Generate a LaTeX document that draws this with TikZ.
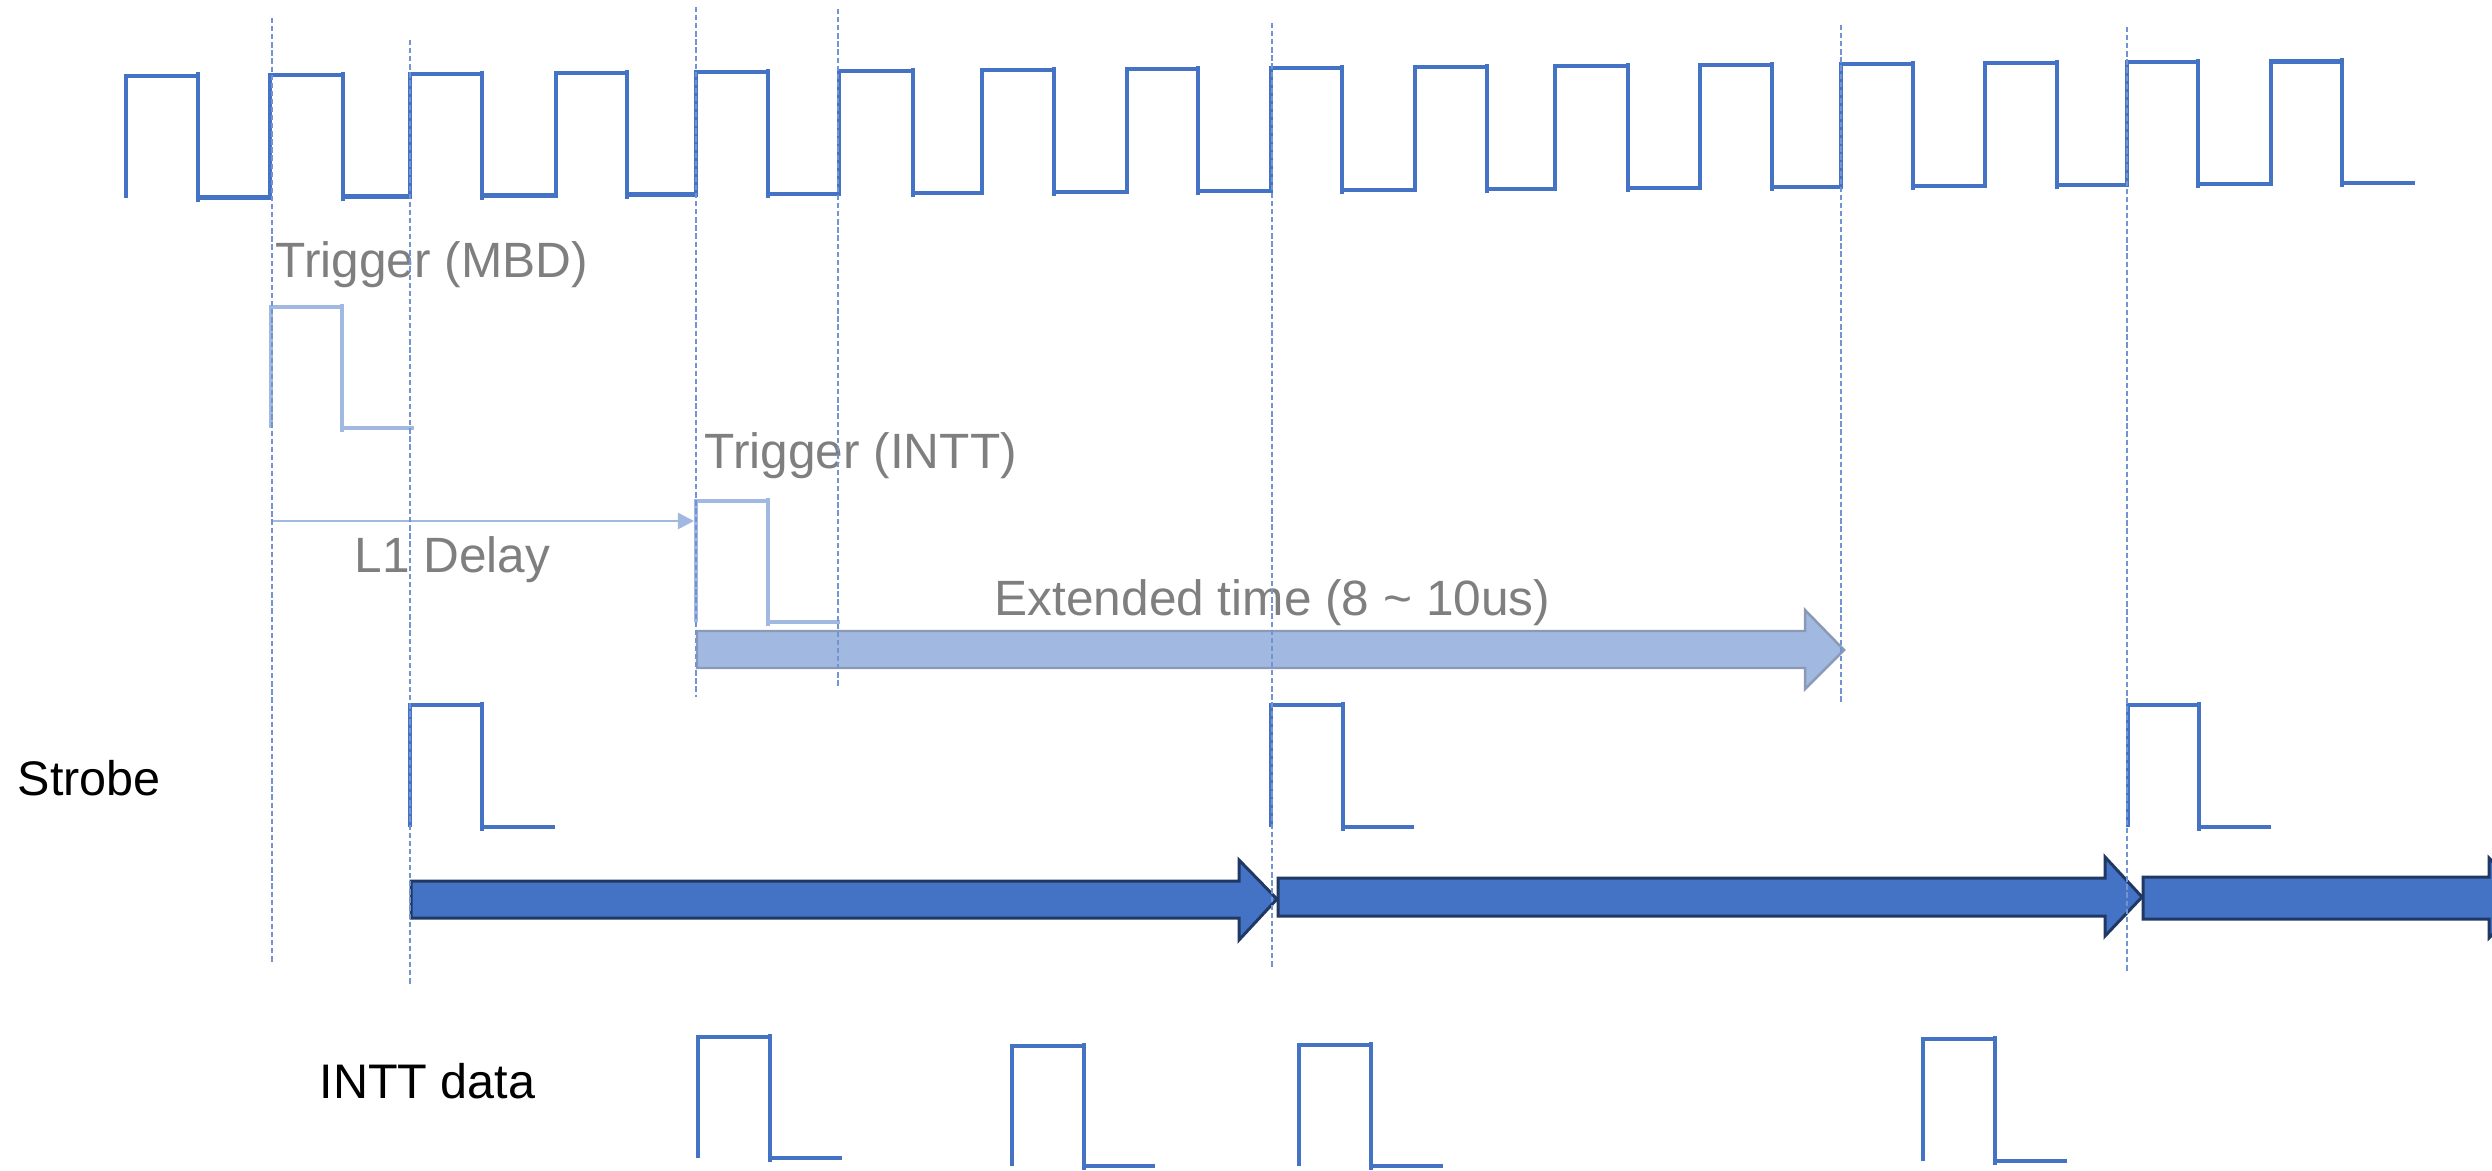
\documentclass[tikz,border=0pt]{standalone}
\usepackage{fontspec}
\setmainfont{Liberation Sans}
\usetikzlibrary{arrows.meta}

\definecolor{clockblue}{HTML}{4472C4}
\definecolor{paleblue}{HTML}{A1B8E1}
\definecolor{guideblue}{HTML}{7394D2}
\definecolor{navyedge}{HTML}{203864}
\definecolor{steeledge}{HTML}{8A9AB5}
\definecolor{textgray}{HTML}{7F7F7F}

% one pulse: style, rise x, fall x, end x, top y, bottom y
\newcommand\pulsewave[6]{%
  \draw[#1] (#2,#6) -- (#2,#5) -- (#3,#5) -- (#3,#6) -- (#4,#6);
  \draw[#1] (#3,#5-3) -- (#3,#6+4);
}

\begin{document}
\begin{tikzpicture}[x=0.01cm,y=-0.01cm,
    clockline/.style={draw=clockblue, line width=1.2pt},
    sigline/.style={draw=clockblue, line width=1pt},
    trigline/.style={draw=paleblue, line width=1pt},
    guide/.style={draw=guideblue, line width=0.45pt, dash pattern=on 1.5pt off 0.8pt},
    graylabel/.style={font=\fontsize{14.1}{16}\selectfont, inner sep=0pt, text=textgray, anchor=base west},
    rowlabel/.style={font=\fontsize{13.8}{16}\selectfont, inner sep=0pt, text=black, anchor=base west},
    darkarrow/.style={fill=clockblue, draw=navyedge, line width=0.85pt, line join=miter},
    palearrow/.style={fill=paleblue, draw=steeledge, line width=0.7pt, line join=miter},
  ]
  \useasboundingbox (0,0) rectangle (2492,1170);
  \clip (0,0) rectangle (2492,1170);

  % ---- clock ----
  \draw[clockline] (126,197.5)
    \foreach \r/\f/\n in {126/198/270, 270/343/410, 410/482/556, 556/627/696,
                          696/768/839, 839/913/982, 982/1054/1127, 1127/1198/1271,
                          1271/1342/1415, 1415/1487/1555, 1555/1628/1700, 1700/1772/1841,
                          1841/1913/1985, 1985/2057/2127, 2127/2198/2271, 2271/2342/2415}
    { -- (\r,{76-0.0068*(\r-126)}) -- (\f,{76-0.0068*(\r-126)})
      -- (\f,{197.5-0.0068*(\f-198)}) -- (\n,{197.5-0.0068*(\f-198)}) };
  \foreach \r/\f in {126/198, 270/343, 410/482, 556/627, 696/768, 839/913, 982/1054,
                     1127/1198, 1271/1342, 1415/1487, 1555/1628, 1700/1772, 1841/1913,
                     1985/2057, 2127/2198, 2271/2342}
    \draw[clockline] (\f,{76-0.0068*(\r-126)-3.5}) -- (\f,{197.5-0.0068*(\f-198)+4});

  % ---- triggers ----
  \node[graylabel] (mbdlabel) at (275,277) {Trigger (MBD)};
  \pulsewave{trigline}{271}{342}{414}{307}{428}

  \node[graylabel] (inttlabel) at (704,468) {Trigger (INTT)};
  \pulsewave{trigline}{696}{768}{840}{501}{622}

  \coordinate (delaystart) at (272,521);
  \coordinate (delayend) at (694,521);
  \draw[draw=paleblue, line width=0.7pt,
        -{Triangle[length=4.6pt,width=4.6pt,fill=paleblue]}] (delaystart) -- (delayend);
  \node[graylabel] (delaylabel) at (354,572) {L1 Delay};

  % ---- extended time ----
  \node[graylabel] (extlabel) at (994,615) {Extended time (8 \textasciitilde{} 10us)};
  \draw[palearrow] (697,631) -- (1805,631) -- (1805,610) -- (1844,650)
    -- (1805,689) -- (1805,668) -- (697,668) -- cycle;

  % ---- strobe ----
  \node[rowlabel] (strobelabel) at (17,795) {Strobe};
  \pulsewave{sigline}{410}{482}{555}{705}{827}
  \pulsewave{sigline}{1271}{1343}{1414}{705}{827}
  \pulsewave{sigline}{2128}{2199}{2271}{705}{827}

  \draw[darkarrow] (411,881) -- (1239,881) -- (1239,860) -- (1277,899)
    -- (1239,940) -- (1239,918) -- (411,918) -- cycle;
  \draw[darkarrow] (1278,878) -- (2105,878) -- (2105,857) -- (2142,897)
    -- (2105,936) -- (2105,916) -- (1278,916) -- cycle;
  \draw[darkarrow] (2143,877) -- (2489,877) -- (2489,858) -- (2528,898)
    -- (2489,938) -- (2489,919) -- (2143,919) -- cycle;

  % ---- INTT data ----
  \node[rowlabel] (datalabel) at (319,1098) {INTT data};
  \pulsewave{sigline}{698}{770}{842}{1037}{1158}
  \pulsewave{sigline}{1012}{1084}{1155}{1046}{1166}
  \pulsewave{sigline}{1299}{1371}{1443}{1045}{1166}
  \pulsewave{sigline}{1923}{1995}{2067}{1039}{1161}

  % ---- timing guides ----
  \coordinate (g1t) at (272,18);   \coordinate (g1b) at (272,963);
  \coordinate (g2t) at (410,40);   \coordinate (g2b) at (410,985);
  \coordinate (g3t) at (696,7);    \coordinate (g3b) at (696,697);
  \coordinate (g4t) at (838,9);    \coordinate (g4b) at (838,687);
  \coordinate (g5t) at (1272,23);  \coordinate (g5b) at (1272,968);
  \coordinate (g6t) at (1841,25);  \coordinate (g6b) at (1841,702);
  \coordinate (g7t) at (2127,27);  \coordinate (g7b) at (2127,972);
  \foreach \g in {1,...,7}
    \draw[guide] (g\g t) -- (g\g b);
\end{tikzpicture}
\end{document}
